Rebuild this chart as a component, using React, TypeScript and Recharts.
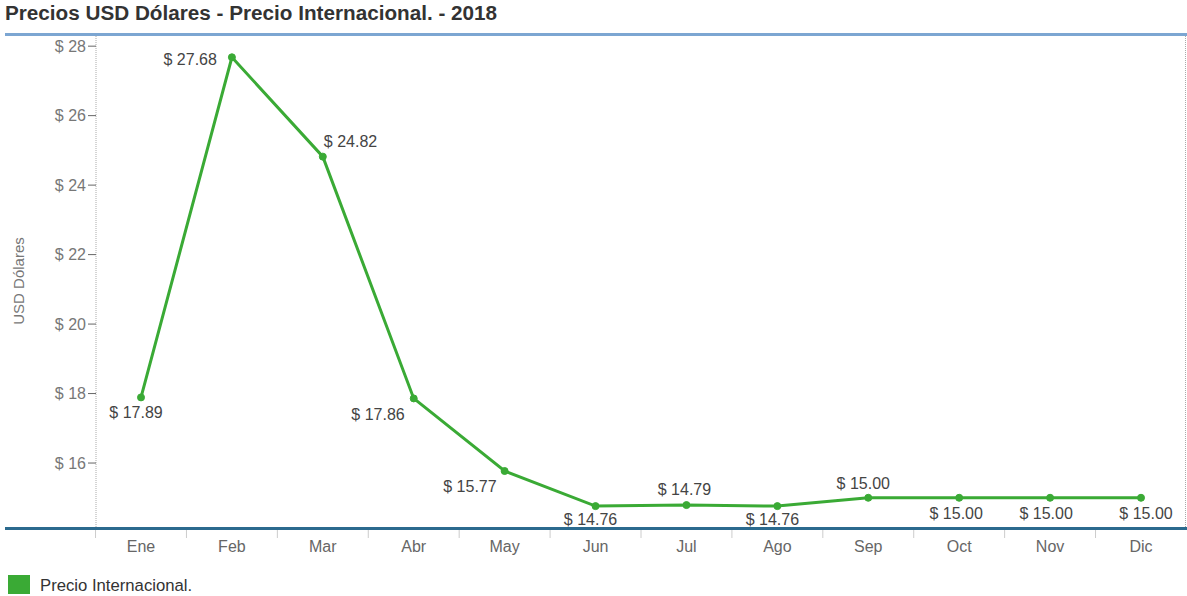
import React from "react";
import { LineChart, Line, XAxis, YAxis } from "recharts";

const MONTHS = ["Ene", "Feb", "Mar", "Abr", "May", "Jun", "Jul", "Ago", "Sep", "Oct", "Nov", "Dic"];
const PRICES = [17.89, 27.68, 24.82, 17.86, 15.77, 14.76, 14.79, 14.76, 15.0, 15.0, 15.0, 15.0];
const Y_TICKS = [16, 18, 20, 22, 24, 26, 28];

// label placement per point: [anchor, dx, dy]
const LABEL_PLACE: Array<["start" | "middle" | "end", number, number]> = [
  ["middle", -5, 15],
  ["end", -15, 2],
  ["start", 1, -15],
  ["end", -9, 16],
  ["end", -8, 15],
  ["middle", -5, 13],
  ["middle", -2, -16],
  ["middle", -5, 13],
  ["middle", -5, -14],
  ["middle", -3, 16],
  ["middle", -4, 16],
  ["middle", 5, 16],
];

const data = MONTHS.map((m, i) => ({ month: m, price: PRICES[i] }));

const GREEN = "#3aaa35";
const FONT = "'Liberation Sans', Arial, sans-serif";
const BAND = 1000 / 11;

function XTick({ x, y, payload }: any) {
  return (
    <g>
      <line x1={x - BAND / 2} x2={x - BAND / 2} y1={y - 6} y2={y + 2} stroke="#ccc" />
      <text x={x} y={y + 16} textAnchor="middle" fill="#666" fontSize={16} fontFamily={FONT}>
        {payload.value}
      </text>
    </g>
  );
}

function renderLabel(props: any) {
  const { x, y, value, index } = props;
  const [anchor, dx, dy] = LABEL_PLACE[index] ?? ["middle", 0, -14];
  return (
    <text
      key={`lbl-${index}`}
      x={x + dx}
      y={y + dy}
      textAnchor={anchor}
      dominantBaseline="central"
      fill="#444"
      fontSize={16}
      fontFamily={FONT}
    >
      {`$ ${Number(value).toFixed(2)}`}
    </text>
  );
}

export default function App() {
  return (
    <div style={{ position: "relative", width: 1187, height: 596, background: "#fff", fontFamily: FONT }}>
      <style>{"body{margin:0}"}</style>
      <div style={{ position: "absolute", left: 5, top: 1, fontSize: 20.7, fontWeight: "bold", color: "#333", whiteSpace: "nowrap" }}>
        Precios USD Dólares - Precio Internacional. - 2018
      </div>
      <LineChart width={1187} height={596} data={data} margin={{ top: 34, right: 1, left: 0, bottom: 38 }}>
        <XAxis
          dataKey="month"
          height={30}
          padding={{ left: 45, right: 45 }}
          axisLine={false}
          tickLine={false}
          tick={<XTick />}
          interval={0}
        />
        <YAxis
          width={96}
          domain={[14.13, 28.35]}
          ticks={Y_TICKS}
          allowDataOverflow
          axisLine={{ stroke: "#aaa", strokeDasharray: "1 1" }}
          tickLine={{ stroke: "#666" }}
          tickSize={8}
          tick={{ fill: "#777", fontSize: 16, fontFamily: FONT }}
          tickFormatter={(v: number) => `$ ${v}`}
          label={{
            value: "USD Dólares",
            angle: -90,
            position: "insideLeft",
            offset: 19,
            style: { fill: "#777", fontSize: 15, fontFamily: FONT, textAnchor: "middle" },
          }}
        />
        <Line
          type="linear"
          dataKey="price"
          stroke={GREEN}
          strokeWidth={3}
          dot={{ r: 3.5, fill: GREEN, stroke: GREEN, strokeWidth: 1 }}
          activeDot={false}
          isAnimationActive={false}
          label={renderLabel}
        />
      </LineChart>
      <div style={{ position: "absolute", left: 5, top: 33, width: 1182, height: 3, background: "#7ca6d2" }} />
      <div style={{ position: "absolute", left: 5, top: 527, width: 1182, height: 3, background: "#2b6a8e" }} />
      <div style={{ position: "absolute", left: 1185, top: 36, width: 0, height: 491, borderLeft: "1px dotted #aaa" }} />
      <div style={{ position: "absolute", left: 8, top: 575, width: 22, height: 19, background: GREEN }} />
      <div style={{ position: "absolute", left: 40, top: 576, fontSize: 16.7, color: "#333" }}>Precio Internacional.</div>
    </div>
  );
}
